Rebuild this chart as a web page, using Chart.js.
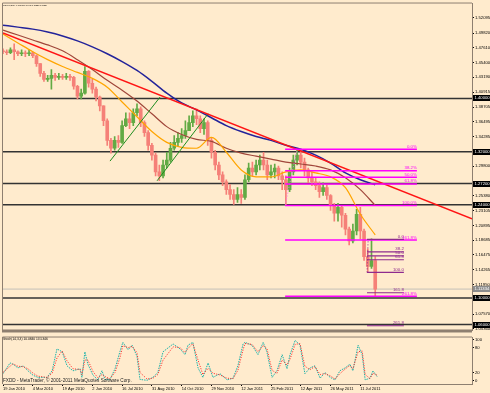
<!DOCTYPE html>
<html>
<head>
<meta charset="utf-8">
<script src="https://cdn.jsdelivr.net/npm/chart.js@4.4.0/dist/chart.umd.min.js"></script>
<style>
  html, body { margin: 0; padding: 0; background: #ffebcd; }
  #wrap { position: relative; width: 490px; height: 393px; overflow: hidden; background: #ffebcd; }
  #main { position: absolute; left: 0; top: 0; }
  #osc { position: absolute; left: 0; top: 334px; }
</style>
</head>
<body>
<div id="wrap">
  <canvas id="main" width="490" height="334"></canvas>
  <canvas id="osc" width="490" height="59"></canvas>
</div>
<script>
// Candles, one every 4 trading days (bar index k)
const firstOpen = 1.4716
const closes = [
  1.4702, 1.4687, 1.4731, 1.4702, 1.4672, 1.4687, 1.4672, 1.4687, 1.4642, 1.4524,
  1.4376, 1.4287, 1.4302, 1.4346, 1.4317, 1.4331, 1.4317, 1.4331, 1.4317, 1.4183,
  1.4035, 1.4080, 1.4406, 1.4228, 1.4139, 1.4021, 1.3887, 1.3665, 1.3369, 1.3251,
  1.3369, 1.3339, 1.3591, 1.3695, 1.3636, 1.3784, 1.3843, 1.3636, 1.3487, 1.3295,
  1.3147, 1.2895, 1.2836, 1.2999, 1.3073, 1.3251, 1.3339, 1.3399, 1.3443, 1.3517,
  1.3636, 1.3739, 1.3695, 1.3547, 1.3636, 1.3369, 1.3191, 1.2999, 1.2851, 1.2747,
  1.2629, 1.2555, 1.2481, 1.2555, 1.2510, 1.2777, 1.2954, 1.2895, 1.2999, 1.3073,
  1.2999, 1.2851, 1.2895, 1.2954, 1.2836, 1.2777, 1.2629, 1.2895, 1.3073, 1.3147,
  1.3043, 1.2925, 1.2806, 1.2747, 1.2688, 1.2599, 1.2658, 1.2540, 1.2392, 1.2273,
  1.2362, 1.2244, 1.2036, 1.1859, 1.2007, 1.2258, 1.2007, 1.1622, 1.1474, 1.1563,
  1.1133
]
const highs = [
  1.4746, 1.4731, 1.4761, 1.4820, 1.4716, 1.4731, 1.4716, 1.4731, 1.4702, 1.4657,
  1.4524, 1.4406, 1.4346, 1.4435, 1.4376, 1.4376, 1.4361, 1.4376, 1.4361, 1.4331,
  1.4198, 1.4139, 1.4480, 1.4420, 1.4287, 1.4169, 1.4035, 1.3887, 1.3695, 1.3399,
  1.3428, 1.3443, 1.3665, 1.3784, 1.3784, 1.3843, 1.3917, 1.3872, 1.3665, 1.3517,
  1.3325, 1.3177, 1.2999, 1.3073, 1.3191, 1.3339, 1.3443, 1.3487, 1.3547, 1.3665,
  1.3739, 1.3813, 1.3843, 1.3739, 1.3695, 1.3665, 1.3399, 1.3221, 1.3043, 1.2895,
  1.2777, 1.2703, 1.2629, 1.2658, 1.2629, 1.2851, 1.3028, 1.3043, 1.3073, 1.3147,
  1.3191, 1.3073, 1.2999, 1.3014, 1.2984, 1.2895, 1.2836, 1.2954, 1.3147, 1.3236,
  1.3221, 1.3102, 1.2954, 1.2895, 1.2806, 1.2747, 1.2732, 1.2703, 1.2555, 1.2421,
  1.2421, 1.2392, 1.2273, 1.2066, 1.2110, 1.2333, 1.2362, 1.2036, 1.1740, 1.1888,
  1.1622
]
const lows = [
  1.4672, 1.4657, 1.4672, 1.4583, 1.4642, 1.4642, 1.4628, 1.4642, 1.4613, 1.4480,
  1.4331, 1.4257, 1.4257, 1.4139, 1.4272, 1.4287, 1.4287, 1.4287, 1.4272, 1.4139,
  1.3991, 1.3991, 1.4065, 1.4169, 1.4080, 1.3961, 1.3813, 1.3591, 1.3295, 1.3177,
  1.3221, 1.3265, 1.3325, 1.3576, 1.3547, 1.3591, 1.3739, 1.3576, 1.3428, 1.3221,
  1.3073, 1.2836, 1.2762, 1.2806, 1.2954, 1.3043, 1.3221, 1.3280, 1.3339, 1.3399,
  1.3517, 1.3576, 1.3606, 1.3487, 1.3458, 1.3295, 1.3102, 1.2925, 1.2777, 1.2688,
  1.2555, 1.2481, 1.2407, 1.2436, 1.2421, 1.2481, 1.2747, 1.2836, 1.2851, 1.2925,
  1.2925, 1.2777, 1.2806, 1.2806, 1.2777, 1.2629, 1.2392, 1.2599, 1.2851, 1.2999,
  1.2954, 1.2836, 1.2732, 1.2688, 1.2629, 1.2510, 1.2540, 1.2481, 1.2318, 1.2155,
  1.2155, 1.2066, 1.1948, 1.1799, 1.1829, 1.1948, 1.1888, 1.1563, 1.1385, 1.1444,
  1.1024
]

// Moving averages, read every 4 candles
const maX = [0, 4, 8, 12, 16, 20, 24, 28, 32, 36, 40, 44, 48, 52, 56, 60, 64, 68, 72, 76, 80, 84, 88, 92, 96, 100]
const maBlue = [1.5101, 1.5072, 1.5042, 1.4998, 1.4939, 1.4865, 1.4776, 1.4672, 1.4554, 1.4420, 1.4257, 1.4080, 1.3932,
  1.3828, 1.3710, 1.3591, 1.3502, 1.3428, 1.3369, 1.3295, 1.3236, 1.3147, 1.3028, 1.2880, 1.2777, 1.2703]
const maBrown = [1.5027, 1.4953, 1.4879, 1.4805, 1.4716, 1.4583, 1.4435, 1.4272, 1.4124, 1.3961, 1.3769, 1.3576, 1.3458,
  1.3384, 1.3354, 1.3251, 1.3177, 1.3132, 1.3088, 1.3043, 1.3014, 1.2984, 1.2925, 1.2806, 1.2629, 1.2392]
const maOrange = [1.4968, 1.4835, 1.4702, 1.4583, 1.4480, 1.4391, 1.4302, 1.4169, 1.3947, 1.3724, 1.3502, 1.3339, 1.3265,
  1.3251, 1.3413, 1.3191, 1.2925, 1.2821, 1.2821, 1.2895, 1.2925, 1.2880, 1.2821, 1.2658, 1.2258, 1.1948]

// Drawn objects
const redTrendX = [0, 126]
const redTrendY = [1.4983, 1.2190]
const greenTrend1X = [28.75, 42.2]
const greenTrend1Y = [1.3058, 1.4021]
const greenTrend2X = [41.4, 55.1]
const greenTrend2Y = [1.2762, 1.3769]
const hLevels = [1.40, 1.32, 1.272, 1.24, 1.10, 1.06]
const bidPrice = 1.11334
const fibLevels = [0, 38.2, 50, 61.8, 100, 161.8, 261.8]
const fib1X = [75.8, 111.2]
const fib1Zero = 1.3236
const fib1Full = 1.2392
const fib1AnchorX = [75.8, 79]
const fib2X = [97.8, 107.7]
const fib2Zero = 1.1881
const fib2Full = 1.1385
const fib2AnchorX = [97.8, 98.1]

// Axes
const priceTicks = [1.52095, 1.49820, 1.47610, 1.45400, 1.43190, 1.40915, 1.38705, 1.36495, 1.34285, 1.29800,
  1.25380, 1.23105, 1.20895, 1.18685, 1.16475, 1.14265, 1.11950, 1.07570, 1.05360]
const dateTicks = [0, 8, 16, 24, 32, 40, 48, 56, 64, 72, 80, 88, 96]
const dateLabels = ['19 Jan 2010', '4 Mar 2010', '19 Apr 2010', '2 Jun 2010', '16 Jul 2010', '31 Aug 2010',
  '14 Oct 2010', '29 Nov 2010', '12 Jan 2011', '25 Feb 2011', '12 Apr 2011', '26 May 2011', '11 Jul 2011']

// Stochastic (14,3,3)
const stochX = [0, 1.9, 2.7, 4.0, 5.4, 6.7, 8.1, 9.4, 11.8, 13.2, 14.5, 15.9, 17.2, 18.8, 20.7, 21.2, 22.0, 22.8, 24.2, 25.5,
  26.6, 27.4, 28.7, 30.1, 31.4, 32.2, 33.6, 34.7, 36.0, 36.8, 38.7, 40.3, 41.6, 43.0, 45.7, 47.6, 48.9, 49.7, 51.0, 52.4,
  53.7, 55.1, 56.4, 58.3, 60.2, 61.8, 63.1, 64.5, 65.0, 66.9, 68.5, 69.9, 70.9, 72.3, 73.6, 75.0, 76.3, 77.1, 78.5, 79.8,
  81.1, 82.5, 83.8, 85.2, 86.5, 87.9, 89.2, 90.5, 91.9, 93.2, 94.0, 95.4, 96.5, 97.3, 98.6, 99.4, 100.5]
const stochK = [17, 43, 40, 31, 36, 24, 13, 8, 8, 24, 77, 70, 36, 24, 29, 8, 70, 40, 13, 2,
  24, 3, 2, 29, 70, 93, 75, 86, 59, 3, 1, 8, 20, 70, 89, 77, 63, 86, 93, 31,
  8, 43, 8, 17, 2, 6, 36, 89, 93, 86, 63, 93, 70, 8, 24, 63, 29, 63, 98, 86,
  17, 31, 36, 6, 20, 8, 2, 24, 31, 40, 24, 86, 63, 2, 6, 24, 10.08]
const stochD = [20, 35, 41, 35, 34, 29, 18, 11, 8, 18, 55, 72, 48, 29, 27, 15, 50, 50, 22, 7,
  15, 10, 5, 20, 55, 85, 80, 83, 68, 20, 4, 6, 15, 50, 82, 80, 68, 78, 90, 50,
  15, 30, 18, 14, 6, 5, 25, 75, 90, 88, 70, 85, 78, 25, 18, 50, 38, 52, 88, 90,
  35, 27, 34, 15, 17, 12, 4, 17, 28, 37, 29, 70, 72, 15, 5, 18, 13.53]

const font = '"Liberation Sans", Arial, sans-serif'
const frameColor = '#8e7f70'
const upColor = '#62aa44'
const downColor = '#f58078'

const opens = closes.map((c, i) => i === 0 ? firstOpen : closes[i - 1])
const candleColor = ctx => closes[ctx.dataIndex] >= opens[ctx.dataIndex] ? upColor : downColor

const pts = (xs, ys) => xs.map((x, i) => ({ x, y: ys[i] }))
const seg = (data, color, width, extra) => Object.assign({
  type: 'line', data, borderColor: color, borderWidth: width, pointRadius: 0, fill: false, tension: 0
}, extra || {})

const datasets = []
hLevels.forEach(v => datasets.push(seg(pts([0, 126], [v, v]), '#333333', 1.5, { order: 20 })))
datasets.push(seg(pts([0, 126], [bidPrice, bidPrice]), '#c4c0b8', 1, { order: 20 }))

datasets.push({
  type: 'bar', data: closes.map((c, i) => ({ x: i, y: [lows[i], highs[i]] })),
  backgroundColor: candleColor, barThickness: 1, grouped: false, order: 10
})
datasets.push({
  type: 'bar', data: closes.map((c, i) => ({ x: i, y: [opens[i], c] })),
  backgroundColor: candleColor, barThickness: 3, minBarLength: 1, grouped: false, order: 9
})

datasets.push(seg(pts(maX, maOrange), '#ffa500', 1.2, { cubicInterpolationMode: 'monotone', order: 5 }))
datasets.push(seg(pts(maX, maBrown), '#a0463a', 1.2, { cubicInterpolationMode: 'monotone', order: 5 }))
datasets.push(seg(pts(maX, maBlue), '#23239a', 1.5, { cubicInterpolationMode: 'monotone', order: 5 }))
datasets.push(seg(pts(redTrendX, redTrendY), '#ff1414', 1.5, { order: 4 }))
datasets.push(seg(pts(greenTrend1X, greenTrend1Y), '#1e8c1e', 1, { order: 4 }))
datasets.push(seg(pts(greenTrend2X, greenTrend2Y), '#1e8c1e', 1, { order: 4 }))

const fibPrice = (zero, full, lv) => zero + (full - zero) * lv / 100
fibLevels.forEach(lv => {
  const p = fibPrice(fib1Zero, fib1Full, lv)
  datasets.push(seg(pts(fib1X, [p, p]), '#ff00ff', 1.5, { order: 3 }))
})
datasets.push(seg(pts(fib1AnchorX, [fib1Full, fib1Zero]), '#ff66ff', 1, { borderDash: [1, 2], order: 3 }))
fibLevels.forEach(lv => {
  const p = fibPrice(fib2Zero, fib2Full, lv)
  datasets.push(seg(pts(fib2X, [p, p]), '#8e2a8e', 1.2, { order: 2 }))
})
datasets.push(seg(pts(fib2AnchorX, [fib2Full, fib2Zero]), '#8e2a8e', 1, { borderDash: [1, 2], order: 2 }))

function fitText(ctx, text, x, y, width, color) {
  ctx.font = '10px ' + font
  const size = 10 * width / ctx.measureText(text).width
  ctx.font = size.toFixed(2) + 'px ' + font
  ctx.fillStyle = color
  ctx.textAlign = 'left'
  ctx.textBaseline = 'middle'
  ctx.fillText(text, x, y)
}

const mainDecor = {
  id: 'mainDecor',
  afterDraw(chart) {
    const { ctx, chartArea: a, scales: { x, y } } = chart
    ctx.save()
    ctx.textAlign = 'right'
    ctx.textBaseline = 'bottom'
    ctx.font = '4.4px ' + font
    fibLevels.forEach(lv => {
      const py1 = y.getPixelForValue(fibPrice(fib1Zero, fib1Full, lv))
      ctx.fillStyle = '#ff00ff'
      ctx.fillText(lv.toFixed(1) + '%', x.getPixelForValue(fib1X[1]), py1 - 0.5)
      const py2 = y.getPixelForValue(fibPrice(fib2Zero, fib2Full, lv))
      ctx.fillStyle = '#8e2a8e'
      ctx.fillText(lv.toFixed(1), x.getPixelForValue(fib2X[1]), py2 - 0.5)
    })

    const box = (v, bg, fg) => {
      const py = Math.round(y.getPixelForValue(v))
      ctx.fillStyle = bg
      ctx.fillRect(a.right + 1, py - 3, 18, 6)
      ctx.fillStyle = fg
      ctx.textAlign = 'left'
      ctx.textBaseline = 'middle'
      ctx.font = '4.2px ' + font
      ctx.fillText(v.toFixed(5), a.right + 2.5, py + 0.3)
    }
    hLevels.forEach(v => box(v, '#000000', '#ffffff'))
    box(bidPrice, '#8c8c8c', '#ffffff')

    fitText(ctx, 'EURCHF,Daily  1.13913 1.14492 1.10235 1.11334', 2, 5, 45, '#000000')

    ctx.strokeStyle = frameColor
    ctx.lineWidth = 1
    ctx.beginPath()
    ctx.moveTo(a.left - 0.5, a.bottom)
    ctx.lineTo(a.left - 0.5, a.top - 0.5)
    ctx.lineTo(a.right, a.top - 0.5)
    ctx.stroke()
    ctx.fillStyle = frameColor
    ctx.fillRect(a.left - 1, a.bottom - 1, a.right - a.left + 1, 3)
    ctx.restore()
  }
}

const oscDecor = {
  id: 'oscDecor',
  afterDraw(chart) {
    const { ctx, chartArea: a } = chart
    ctx.save()
    fitText(ctx, 'Stoch(14,3,3) 10.0840 13.5346', 3, 5, 45, '#000000')
    fitText(ctx, 'FXDD - MetaTrader, \u00a9 2001-2011 MetaQuotes Software Corp.', 3, 46.5, 129, '#222222')
    ctx.strokeStyle = frameColor
    ctx.lineWidth = 1
    ctx.beginPath()
    ctx.moveTo(a.left - 0.5, a.bottom)
    ctx.lineTo(a.left - 0.5, a.top - 0.5)
    ctx.lineTo(a.right, a.top - 0.5)
    ctx.stroke()
    ctx.restore()
  }
}

const tickFont = { family: font, size: 4.2 }

new Chart(document.getElementById('main'), {
  type: 'bar',
  data: { datasets },
  options: {
    responsive: false,
    animation: false,
    events: [],
    layout: { padding: { left: 3, top: 1, right: 0, bottom: 1 } },
    plugins: { legend: { display: false }, tooltip: { enabled: false } },
    scales: {
      x: { type: 'linear', min: 0, max: 126, offset: false, display: false },
      y: {
        position: 'right',
        min: 1.0511,
        max: 1.5427,
        afterFit: s => { s.width = 18 },
        afterBuildTicks: s => { s.ticks = priceTicks.map(v => ({ value: v })) },
        ticks: { autoSkip: false, color: '#000', font: tickFont, padding: 1, callback: v => v.toFixed(5) },
        grid: { drawOnChartArea: false, drawTicks: true, tickLength: 2, color: '#000' },
        border: { display: true, color: frameColor }
      }
    }
  },
  plugins: [mainDecor]
})

new Chart(document.getElementById('osc'), {
  type: 'line',
  data: {
    datasets: [
      { data: pts(stochX, stochD), borderColor: '#ff2020', borderWidth: 1, borderDash: [1, 1.5], pointRadius: 0, tension: 0 },
      { data: pts(stochX, stochK), borderColor: '#20b2aa', borderWidth: 1, borderDash: [1.5, 1], pointRadius: 0, tension: 0 }
    ]
  },
  options: {
    responsive: false,
    animation: false,
    events: [],
    layout: { padding: { left: 3, top: 1, right: 0, bottom: 0 } },
    plugins: { legend: { display: false }, tooltip: { enabled: false } },
    scales: {
      x: {
        type: 'linear', min: 0, max: 126, offset: false,
        afterFit: s => { s.height = 9 },
        afterBuildTicks: s => { s.ticks = dateTicks.map(v => ({ value: v })) },
        ticks: {
          autoSkip: false, maxRotation: 0, align: 'start', color: '#000', font: { family: font, size: 4 }, padding: 0.5,
          callback: v => dateLabels[dateTicks.indexOf(v)]
        },
        grid: { drawOnChartArea: false, drawTicks: true, tickLength: 2, color: '#000' },
        border: { display: true, color: frameColor }
      },
      y: {
        position: 'right',
        min: -8,
        max: 104.6,
        afterFit: s => { s.width = 18 },
        afterBuildTicks: s => { s.ticks = [0, 20, 80, 100].map(v => ({ value: v })) },
        ticks: { autoSkip: false, color: '#000', font: tickFont, padding: 1 },
        grid: { drawOnChartArea: false, drawTicks: true, tickLength: 2, color: '#000' },
        border: { display: true, color: frameColor }
      }
    }
  },
  plugins: [oscDecor]
})
</script>
</body>
</html>
